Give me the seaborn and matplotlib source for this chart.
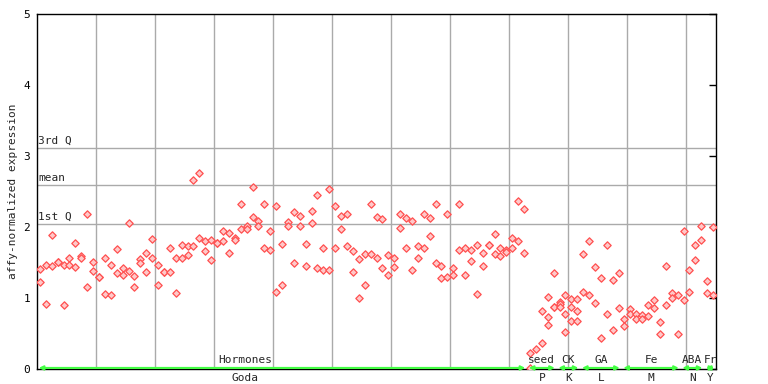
import matplotlib
matplotlib.use('Agg')
import matplotlib.pyplot as plt
import matplotlib.transforms as mtransforms
import pandas as pd
import seaborn as sns

# expression per sample (replicates), left to right
hormones = [
    [1.41, 1.22], [1.47, 0.915], [1.89, 1.45], [1.51, 1.51], [1.47, 0.90],
    [1.57, 1.47], [1.77, 1.43], [1.59, 1.57], [2.19, 1.15], [1.51, 1.38],
    [1.29, 1.29], [1.56, 1.05], [1.47, 1.04], [1.69, 1.35], [1.42, 1.32],
    [2.05, 1.38], [1.31, 1.15], [1.545, 1.49], [1.64, 1.36], [1.83, 1.57],
    [1.47, 1.18], [1.36, 1.36], [1.71, 1.36], [1.56, 1.07], [1.74, 1.56],
    [1.73, 1.60], [2.66, 1.73], [2.755, 1.84], [1.80, 1.66], [1.81, 1.53],
    [1.78, 1.78], [1.94, 1.80], [1.91, 1.64], [1.84, 1.81], [2.32, 1.97],
    [2.02, 1.97], [2.56, 2.14], [2.09, 2.01], [2.32, 1.71], [1.95, 1.67],
    [2.30, 1.09], [1.76, 1.18], [2.07, 2.01], [2.21, 1.50], [2.15, 2.02],
    [1.76, 1.45], [2.23, 2.05], [2.45, 1.42], [1.71, 1.40], [2.53, 1.40],
    [2.30, 1.70], [2.15, 1.97], [2.18, 1.73], [1.66, 1.36], [1.545, 1.00],
    [1.62, 1.18], [2.33, 1.62], [2.14, 1.57], [2.11, 1.42], [1.60, 1.33],
    [1.57, 1.43], [2.19, 1.98], [2.12, 1.71], [2.09, 1.40], [1.73, 1.57],
    [2.19, 1.71], [2.12, 1.87], [2.33, 1.49], [1.45, 1.28], [2.18, 1.29],
    [1.42, 1.33], [2.33, 1.67], [1.71, 1.32], [1.67, 1.52], [1.74, 1.05],
    [1.63, 1.45], [1.74, 1.74], [1.90, 1.62], [1.70, 1.59], [1.68, 1.65],
    [1.84, 1.70], [2.37, 1.80], [2.26, 1.63],
]
seed = [[0.22, 0.01], [0.28], [0.81, 0.36], [1.01, 0.73, 0.615], [1.35, 0.88, 0.88]]
ck = [[0.95, 0.92, 0.88], [1.04, 0.77, 0.52], [0.98, 0.87, 0.67], [0.98, 0.81, 0.67]]
ga = [[1.62, 1.09], [1.80, 1.04], [1.43, 0.925], [1.28, 0.43], [1.74, 0.78],
      [1.25, 0.545], [1.35, 0.855]]
fe = [[0.71, 0.60], [0.84, 0.77], [0.78, 0.70], [0.755, 0.70], [0.90, 0.74],
      [0.97, 0.855], [0.66, 0.49], [1.45, 0.90], [1.07, 1.00], [1.04, 0.50]]
aba = [[1.94, 0.97], [1.39, 1.09], [1.74, 1.53], [2.02, 1.81]]
fr = [[1.235, 1.07], [2.00, 1.04]]

groups = [hormones, seed, ck, ga, fe, aba, fr]
group_names = ['Hormones', 'seed', 'CK', 'GA', 'Fe', 'ABA', 'Fr']
group_codes = ['Goda', 'P', 'K', 'L', 'M', 'N', 'Y']

stat_names = ['3rd Q', 'mean', '1st Q']
stat_values = [3.11, 2.585, 2.04]

rows = []
n = 0
bounds = []
for g in groups:
    start = n
    for reps in g:
        for v in reps:
            rows.append({'sample': n + 0.5, 'expression': v})
        n += 1
    bounds.append((start, n))
df = pd.DataFrame(rows)

sns.set_style('white')
plt.rcParams['font.family'] = ['DejaVu Sans Mono']
plt.rcParams['font.size'] = 8

fig = plt.figure(figsize=(7.68, 3.84), dpi=100)
ax = fig.add_axes([37 / 768, 15 / 384, 679 / 768, 355 / 384])

ax.set_xlim(0, n)
ax.set_ylim(0, 5)
ax.set_xticks(range(10, n, 10))
ax.set_xticklabels([])
ax.grid(axis='x', color='#aaaaaa', lw=1)
ax.set_axisbelow(True)
ax.set_yticks(range(6))
ax.tick_params(axis='y', direction='in', length=5, width=1, right=True,
               labelright=False, pad=5, colors='black', labelsize=8)
ax.tick_params(axis='x', length=0)
for s in ax.spines.values():
    s.set_color('black')
    s.set_linewidth(1)

for name, v in zip(stat_names, stat_values):
    ax.axhline(v, color='#aaaaaa', lw=1, zorder=1)
    ax.text(0.15, v + 0.03, name, ha='left', va='bottom', fontsize=8)

sns.scatterplot(data=df, x='sample', y='expression', marker='D', s=14,
                color='#ffc8c8', edgecolor='#ff5050', linewidth=0.9,
                legend=False, ax=ax, zorder=3)

# group arrows and labels along the bottom
below = mtransforms.blended_transform_factory(ax.transData, ax.transAxes)
label_at = {'Hormones': 35.3}
for (a, b), name, code in zip(bounds, group_names, group_codes):
    ax.annotate('', xy=(b - 0.3, 0.015), xytext=(a + 0.3, 0.015),
                arrowprops=dict(arrowstyle='<|-|>', color='#44ff44', lw=1.5,
                                mutation_scale=6, shrinkA=0, shrinkB=0),
                annotation_clip=False, zorder=4)
    cx = label_at.get(name, (a + b) / 2)
    ax.text(cx, 0.05, name, ha='center', va='bottom', fontsize=8)
    ax.text(cx, -0.012, code, ha='center', va='top', fontsize=8,
            transform=below)

ax.set_xlabel('')
ax.set_ylabel('affy-normalized expression', fontsize=8, labelpad=4)

fig.savefig('out.png', dpi=100)
